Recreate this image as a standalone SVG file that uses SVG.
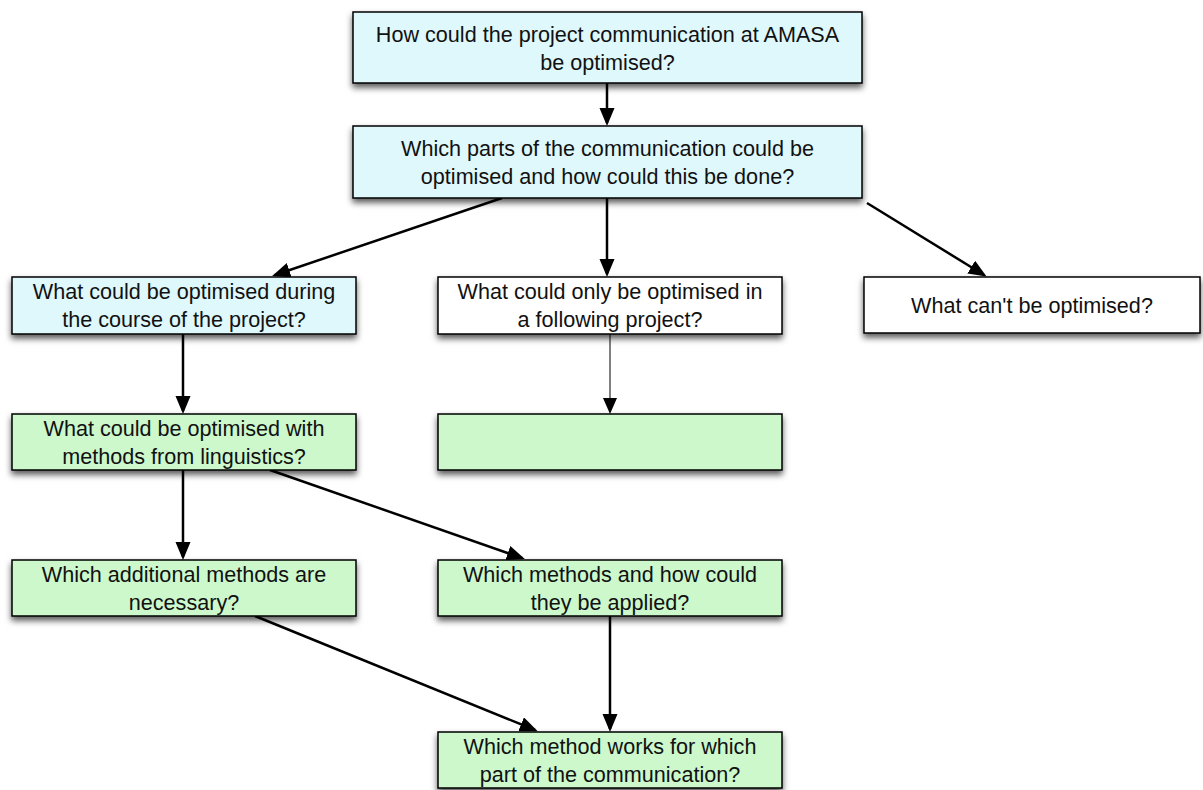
<svg xmlns="http://www.w3.org/2000/svg" width="1203" height="790" viewBox="0 0 1203 790">
<style>
  .box { stroke: #000; stroke-width: 1.5; filter: url(#shadow); }
  .cyan { fill: #dff8fc; }
  .green { fill: #ccf8cc; }
  .white { fill: #ffffff; }
  text { font-family: "Liberation Sans", Arial, Helvetica, sans-serif; font-size: 21.6px; fill: #111; text-anchor: middle; }
  .conn { stroke: #000; stroke-width: 2.5; fill: none; marker-end: url(#arrow); }
  .thin { stroke: #000; stroke-width: 1; fill: none; marker-end: url(#arrowThin); }
</style>
<defs>
  <filter id="shadow" x="-10%" y="-20%" width="120%" height="160%">
    <feDropShadow dx="0" dy="4" stdDeviation="3" flood-color="#000" flood-opacity="0.65"/>
  </filter>
  <marker id="arrow" markerUnits="userSpaceOnUse" markerWidth="19" markerHeight="16" refX="15" refY="7.5" orient="auto">
    <path d="M0,0 L18,7.5 L0,15 z" fill="#000"/>
  </marker>
  <marker id="arrowThin" markerUnits="userSpaceOnUse" markerWidth="19" markerHeight="16" refX="14" refY="7" orient="auto">
    <path d="M0,0 L16,7 L0,14 z" fill="#000"/>
  </marker>
</defs>
<rect width="1203" height="790" fill="#fff"/>

<g id="connectors">
  <line class="conn" x1="607" y1="83" x2="607" y2="123"/>
  <line class="conn" x1="502" y1="198" x2="275" y2="275"/>
  <line class="conn" x1="607" y1="198" x2="607" y2="274"/>
  <line class="conn" x1="867" y1="203" x2="984" y2="275"/>
  <line class="conn" x1="183" y1="334" x2="183" y2="411"/>
  <line class="thin" x1="610" y1="334" x2="610" y2="412"/>
  <line class="conn" x1="183" y1="470" x2="183" y2="557"/>
  <line class="conn" x1="270" y1="470" x2="522" y2="558"/>
  <line class="conn" x1="255" y1="616" x2="535" y2="730"/>
  <line class="conn" x1="610" y1="616" x2="610" y2="729"/>
</g>

<g id="n1">
  <rect class="box cyan" x="353" y="12" width="509" height="71"/>
  <text x="607.5" y="42">How could the project communication at AMASA</text>
  <text x="607.5" y="70">be optimised?</text>
</g>
<g id="n2">
  <rect class="box cyan" x="353" y="126" width="509" height="72"/>
  <text x="607.5" y="155.5">Which parts of the communication could be</text>
  <text x="607.5" y="183.5">optimised and how could this be done?</text>
</g>
<g id="n3">
  <rect class="box cyan" x="12" y="277" width="344" height="57"/>
  <text x="184" y="299">What could be optimised during</text>
  <text x="184" y="327">the course of the project?</text>
</g>
<g id="n4">
  <rect class="box white" x="438" y="277" width="344" height="57"/>
  <text x="610" y="299">What could only be optimised in</text>
  <text x="610" y="327">a following project?</text>
</g>
<g id="n5">
  <rect class="box white" x="864" y="277" width="336" height="56"/>
  <text x="1032" y="313">What can't be optimised?</text>
</g>
<g id="n6">
  <rect class="box green" x="12" y="414" width="344" height="56"/>
  <text x="184" y="435.5">What could be optimised with</text>
  <text x="184" y="463.5">methods from linguistics?</text>
</g>
<g id="n7">
  <rect class="box green" x="438" y="414" width="344" height="56"/>
</g>
<g id="n8">
  <rect class="box green" x="12" y="560" width="344" height="56"/>
  <text x="184" y="581.5">Which additional methods are</text>
  <text x="184" y="609.5">necessary?</text>
</g>
<g id="n9">
  <rect class="box green" x="438" y="560" width="344" height="56"/>
  <text x="610" y="581.5">Which methods and how could</text>
  <text x="610" y="609.5">they be applied?</text>
</g>
<g id="n10">
  <rect class="box green" x="438" y="732" width="344" height="56"/>
  <text x="610" y="753.5">Which method works for which</text>
  <text x="610" y="781.5">part of the communication?</text>
</g>
</svg>
